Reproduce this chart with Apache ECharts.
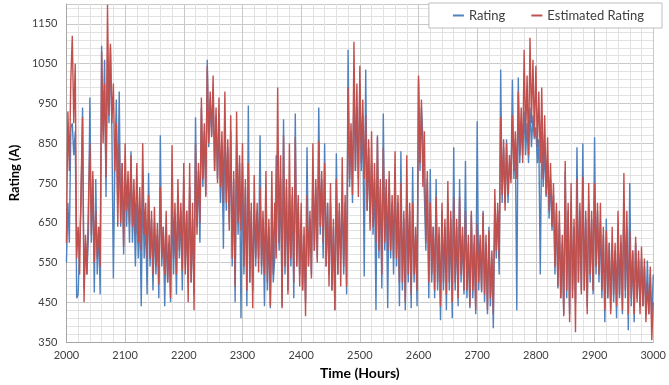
<!DOCTYPE html>
<html>
<head>
<meta charset="utf-8">
<script src="https://cdn.jsdelivr.net/npm/echarts@6/dist/echarts.min.js"></script>
<style>
html,body{margin:0;padding:0;background:#ffffff;}
#chart{width:669px;height:385px;}
</style>
</head>
<body>
<div id="chart"></div>
<script>
// Hours: 2000 .. 3000 sampled every 2.5 hours (8 values per 20-hour row)
const startHour = 2000;
const stepHours = 2.5;

// Rating (A) - blue series
const rating = [
  550,700,600,890, 900,820,880,460,
  470,600,700,940, 485,600,520,620,
  965,600,760,475, 760,520,640,470,
  1095,880,1060,715, 1060,900,1090,880,
  510,800,960,700, 980,640,800,570,
  780,640,760,600, 830,600,720,540,
  700,560,680,440, 760,560,660,470,
  775,540,660,480, 650,520,620,460,
  870,540,640,440, 640,500,600,450,
  700,520,660,470, 720,560,680,480,
  760,540,680,500, 740,500,660,470,
  915,640,780,600, 940,740,880,720,
  1060,840,960,870, 980,780,920,760,
  900,700,840,585, 900,680,840,650,
  880,540,760,450, 850,620,800,410,
  800,520,740,440, 945,500,680,480,
  700,540,680,560, 870,520,660,440,
  700,480,640,435, 640,500,560,820,
  700,580,760,440, 910,520,740,480,
  700,540,720,460, 925,540,700,520,
  650,480,620,450, 840,540,660,520,
  780,580,740,560, 940,620,760,560,
  850,540,700,520, 700,480,640,430,
  825,520,680,560, 700,520,700,470,
  1085,740,880,700, 990,780,940,760,
  1000,780,920,515, 1035,680,840,650,
  800,620,760,430, 870,560,740,485,
  925,580,740,435, 760,560,700,520,
  775,540,700,440, 830,480,660,430,
  720,500,680,435, 790,500,620,440,
  1010,780,940,860, 860,580,760,460,
  785,500,640,460, 760,480,620,405,
  680,480,640,430, 700,480,660,410,
  840,480,640,440, 760,500,620,470,
  805,460,600,435, 670,460,600,420,
  905,480,600,475, 680,450,600,420,
  640,440,560,385, 700,560,680,520,
  1035,700,840,700, 860,700,800,760,
  1010,760,860,430, 1015,800,900,820,
  930,820,900,800, 940,840,920,860,
  890,800,860,520, 880,740,840,715,
  800,660,760,630, 720,520,680,485,
  650,460,600,420, 780,460,680,420,
  700,480,640,450, 840,500,680,480,
  850,480,660,440, 700,500,660,470,
  865,520,680,500, 650,460,620,400,
  660,460,600,430, 600,450,580,410,
  600,460,600,420, 700,460,640,380,
  750,440,580,400, 600,460,560,440,
  560,440,540,420, 555,420,520,400,
  520
];

// Estimated Rating (A) - red series
const estimatedRating = [
  600,930,780,1010, 1120,900,1050,560,
  640,520,750,915, 450,620,520,700,
  850,620,780,550, 680,560,640,540,
  1080,850,1000,765, 1198,920,1100,900,
  1000,780,900,640, 850,650,800,590,
  850,680,780,650, 820,640,760,620,
  800,600,740,580, 850,620,700,560,
  720,560,680,520, 690,540,650,495,
  740,560,640,520, 680,500,620,460,
  845,560,700,520, 760,580,700,530,
  800,520,680,450, 800,500,700,430,
  850,620,800,650, 965,760,900,715,
  1045,850,980,865, 1020,780,940,750,
  965,740,880,700, 980,700,860,630,
  920,560,780,490, 930,650,820,630,
  850,540,760,480, 800,500,700,435,
  770,560,700,525, 740,540,680,520,
  780,500,660,440, 780,520,700,560,
  990,600,820,435, 870,540,760,470,
  850,560,740,500, 865,540,720,490,
  700,480,640,415, 720,540,680,510,
  850,580,760,550, 855,640,780,600,
  800,540,700,490, 750,480,660,430,
  760,520,700,490, 815,540,720,490,
  990,760,900,720, 1105,780,1000,715,
  1045,800,960,760, 920,680,860,630,
  880,640,800,600, 865,580,760,520,
  840,600,760,580, 780,580,720,560,
  830,560,720,500, 750,500,680,450,
  820,520,700,470, 700,520,640,480,
  1020,800,960,740, 880,600,780,500,
  700,520,640,480, 715,500,640,440,
  700,500,660,470, 755,500,680,450,
  715,500,660,460, 715,520,640,480,
  680,480,620,440, 680,480,620,430,
  650,500,620,480, 675,470,620,430,
  630,460,580,420, 735,580,700,560,
  915,720,860,680, 850,720,820,750,
  920,780,880,760, 980,820,940,800,
  1085,860,1020,820, 1115,900,1060,865,
  1045,840,980,800, 990,760,920,720,
  865,680,800,640, 750,540,700,490,
  680,460,620,415, 805,480,700,400,
  750,460,660,375, 760,500,700,470,
  765,480,680,420, 750,520,680,480,
  750,540,700,520, 700,480,640,430,
  630,460,600,420, 640,470,600,440,
  680,470,620,430, 775,480,680,420,
  630,460,580,420, 615,450,580,420,
  590,440,560,400, 500,420,540,355,
  450
];

const seriesNames = ['Rating', 'Estimated Rating'];
const seriesColors = ['#4F81BD', '#C0504D'];

function pairs(values) {
  return values.map(function (v, i) { return [startHour + i * stepHours, v]; });
}

const chart = echarts.init(document.getElementById('chart'), null, {renderer: 'canvas'});
const fontFam = 'Lato, "Open Sans", sans-serif';
const plain = function (v) { return String(v); };

chart.setOption({
  animation: false,
  backgroundColor: '#ffffff',
  grid: {left: 52, right: 9, top: 4, bottom: 38},
  legend: {
    data: seriesNames,
    right: 7,
    top: 3,
    width: 230,
    orient: 'horizontal',
    icon: 'rect',
    itemWidth: 11,
    itemHeight: 2,
    itemGap: 26,
    padding: [6, 18, 6, 24],
    backgroundColor: '#ffffff',
    borderColor: '#bfbfbf',
    borderWidth: 1,
    textStyle: {fontFamily: fontFam, fontSize: 13, color: '#404040'}
  },
  xAxis: {
    type: 'value',
    min: 2000,
    max: 3000,
    interval: 100,
    name: 'Time (Hours)',
    nameLocation: 'middle',
    nameGap: 20,
    nameTextStyle: {fontFamily: fontFam, fontSize: 14, fontWeight: 'bold', color: '#000000'},
    axisLine: {show: true, lineStyle: {color: '#a6a6a6'}},
    axisTick: {show: false},
    axisLabel: {fontFamily: fontFam, fontSize: 11, color: '#404040', margin: 8, formatter: plain},
    splitLine: {show: true, lineStyle: {color: '#c8c8c8', width: 1}},
    minorTick: {show: false, splitNumber: 5},
    minorSplitLine: {show: true, lineStyle: {color: '#e2e2e2', width: 1}}
  },
  yAxis: {
    type: 'value',
    min: 350,
    max: 1200,
    interval: 100,
    name: 'Rating (A)',
    nameLocation: 'middle',
    nameGap: 32,
    nameRotate: 90,
    nameTextStyle: {fontFamily: fontFam, fontSize: 13, fontWeight: 'bold', color: '#000000'},
    axisLine: {show: true, lineStyle: {color: '#a6a6a6'}},
    axisTick: {show: false},
    axisLabel: {fontFamily: fontFam, fontSize: 11, color: '#404040', margin: 9, showMaxLabel: false, formatter: plain},
    splitLine: {show: true, lineStyle: {color: '#c8c8c8', width: 1}},
    minorTick: {show: false, splitNumber: 5},
    minorSplitLine: {show: true, lineStyle: {color: '#e2e2e2', width: 1}}
  },
  series: [
    {
      name: seriesNames[0],
      type: 'line',
      data: pairs(rating),
      showSymbol: false,
      symbol: 'none',
      lineStyle: {color: seriesColors[0], width: 1.4},
      itemStyle: {color: seriesColors[0]},
      z: 2
    },
    {
      name: seriesNames[1],
      type: 'line',
      data: pairs(estimatedRating),
      showSymbol: false,
      symbol: 'none',
      lineStyle: {color: seriesColors[1], width: 1.4},
      itemStyle: {color: seriesColors[1]},
      z: 3
    }
  ]
});
</script>
</body>
</html>
